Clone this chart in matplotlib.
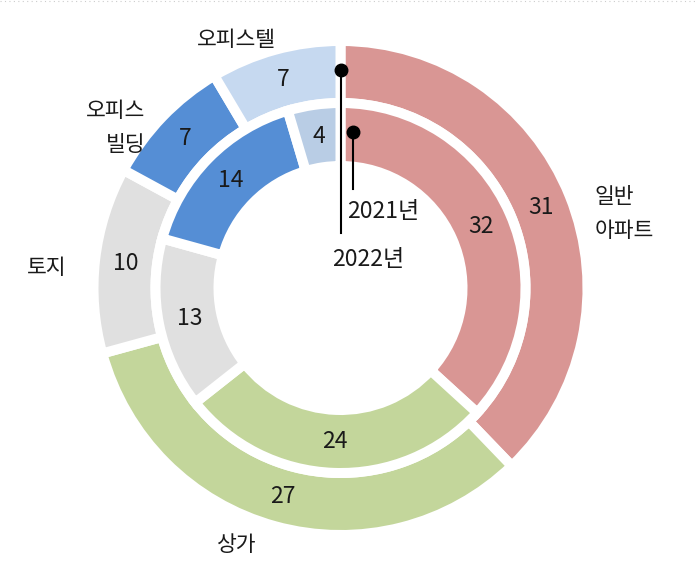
import matplotlib
matplotlib.use("Agg")
import matplotlib.pyplot as plt

plt.rcParams['font.family'] = ['Noto Sans CJK KR', 'DejaVu Sans']

# 2022 (outer ring) and 2021 (inner ring), clockwise from top
categories = ['일반아파트', '상가', '토지', '오피스빌딩', '오피스텔']
values_2022 = [31, 27, 10, 7, 7]
values_2021 = [32, 24, 13, 14, 4]
colors_2022 = ['#D99694', '#C3D69B', '#E0E0E0', '#558ED5', '#C6D9F0']
colors_2021 = ['#D99694', '#C3D69B', '#E0E0E0', '#558ED5', '#B9CDE5']

px = 247.0   # pixels per pie radius unit
gap = 7.2    # white gap between wedges (pt)

fig = plt.figure(figsize=(6.97, 5.68), dpi=100)
ax = fig.add_axes([0, 0, 1, 1])


def fmt(vals):
    tot = sum(vals)
    return lambda p: f'{p * tot / 100:.0f}'


num = dict(fontsize=16.5, color='#1a1a1a', fontweight='light')
wp = dict(edgecolor='white', linewidth=gap)
ax.pie(values_2022, radius=1.0, startangle=90, counterclock=False,
       colors=colors_2022, wedgeprops=dict(width=62 / px, **wp),
       autopct=fmt(values_2022), pctdistance=216 / px, textprops=num)
ax.pie(values_2021, radius=185 / px, startangle=90, counterclock=False,
       colors=colors_2021, wedgeprops=dict(width=63 / px, **wp),
       autopct=fmt(values_2021), pctdistance=153.5 / 185, textprops=num)

# category labels
lab = dict(fontsize=15.5, color='#1a1a1a', va='center', fontweight='light')
ax.text(-104 / px, 248 / px, '오피스텔', ha='center', **lab)
ax.text(-195 / px, 160 / px, '오피스\n빌딩', ha='right', multialignment='right',
        linespacing=1.65, **lab)
ax.text(-294 / px, 20 / px, '토지', ha='center', **lab)
ax.text(-104 / px, -257 / px, '상가', ha='center', **lab)
ax.text(254 / px, 74 / px, '일반\n아파트', ha='left', multialignment='left',
        linespacing=1.65, **lab)

# year markers
ax.plot([0, 0], [218 / px, 55 / px], color='black', lw=1.5)
ax.plot(0, 218 / px, 'o', color='black', ms=9)
ax.text(28 / px, 28 / px, '2022년', ha='center', va='center', **num)
ax.plot([12.5 / px, 12.5 / px], [156 / px, 99 / px], color='black', lw=1.5)
ax.plot(12.5 / px, 156 / px, 'o', color='black', ms=9)
ax.text(43 / px, 76 / px, '2021년', ha='center', va='center', **num)

ax.set_xlim(-340.5 / px, 356.5 / px)
ax.set_ylim(-280 / px, 288 / px)
ax.axis('off')

# faint dotted rule along the top edge
fig.add_artist(plt.Line2D([0, 1], [0.999, 0.999], transform=fig.transFigure,
                          color='#cccccc', lw=0.8, ls=(0, (1, 3))))

fig.savefig('out.png', dpi=100)
